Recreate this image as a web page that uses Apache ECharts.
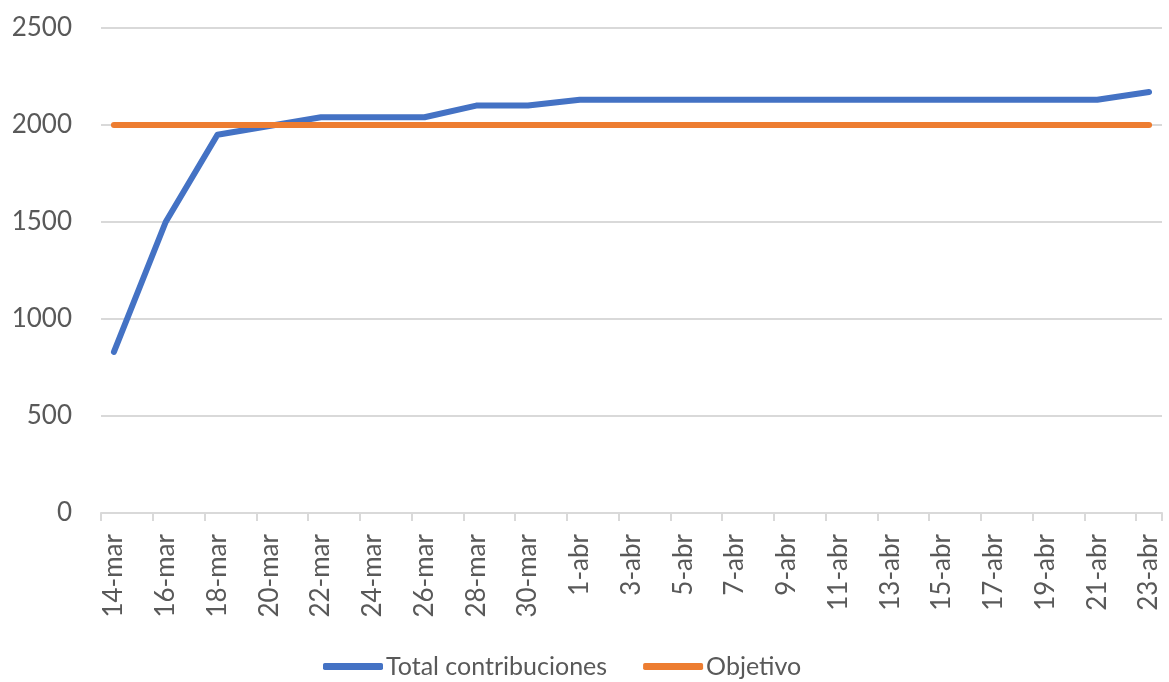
<!DOCTYPE html>
<html>
<head>
<meta charset="utf-8">
<script src="https://cdn.jsdelivr.net/npm/echarts@6/dist/echarts.min.js"></script>
<style>
html,body{margin:0;padding:0;background:#fff;}
#chart{width:1169px;height:682px;}
</style>
</head>
<body>
<div id="chart"></div>
<script>
var categories = [
  "14-mar","15-mar","16-mar","17-mar","18-mar","19-mar","20-mar","21-mar","22-mar","23-mar",
  "24-mar","25-mar","26-mar","27-mar","28-mar","29-mar","30-mar","31-mar",
  "1-abr","2-abr","3-abr","4-abr","5-abr","6-abr","7-abr","8-abr","9-abr","10-abr",
  "11-abr","12-abr","13-abr","14-abr","15-abr","16-abr","17-abr","18-abr","19-abr","20-abr",
  "21-abr","22-abr","23-abr"
];
var totalContribuciones = [
  830, null, 1500, null, 1950, null, 1995, null, 2040, null,
  2040, null, 2040, null, 2100, null, 2100, null,
  2130, null, 2130, null, 2130, null, 2130, null, 2130, null,
  2130, null, 2130, null, 2130, null, 2130, null, 2130, null,
  2130, null, 2170
];
var objetivo = [
  2000, 2000, 2000, 2000, 2000, 2000, 2000, 2000, 2000, 2000,
  2000, 2000, 2000, 2000, 2000, 2000, 2000, 2000,
  2000, 2000, 2000, 2000, 2000, 2000, 2000, 2000, 2000, 2000,
  2000, 2000, 2000, 2000, 2000, 2000, 2000, 2000, 2000, 2000,
  2000, 2000, 2000
];
var yTicks = [0, 500, 1000, 1500, 2000, 2500];

var FONT = 'Lato';
var TXT = '#595959';
var chart = echarts.init(document.getElementById('chart'), null, {renderer: 'canvas'});
chart.setOption({
  animation: false,
  backgroundColor: '#ffffff',
  textStyle: {fontFamily: FONT},
  grid: {left: 101, right: 7, top: 28, bottom: 169, containLabel: false},
  legend: {
    bottom: -2,
    left: 318,
    itemWidth: 60,
    itemHeight: 7,
    itemGap: 36,
    icon: 'roundRect',
    textStyle: {fontFamily: FONT, fontSize: 25, color: TXT, padding: [0, 0, 0, -2]},
    data: ['Total contribuciones', 'Objetivo']
  },
  xAxis: {
    type: 'category',
    data: categories,
    boundaryGap: true,
    axisLine: {show: true, lineStyle: {color: '#d9d9d9', width: 2}},
    axisTick: {show: true, interval: 1, length: 8, lineStyle: {color: '#d9d9d9', width: 2}},
    axisLabel: {interval: 1, rotate: 90, margin: 21, fontFamily: FONT, fontSize: 26, color: TXT}
  },
  yAxis: {
    type: 'value',
    min: yTicks[0],
    max: yTicks[yTicks.length - 1],
    interval: 500,
    axisLine: {show: false},
    axisTick: {show: false},
    axisLabel: {
      margin: 29, fontFamily: FONT, fontSize: 26, color: TXT,
      formatter: function (v) { return String(v); }
    },
    splitLine: {lineStyle: {color: '#d9d9d9', width: 2}}
  },
  series: [
    {
      name: 'Total contribuciones',
      type: 'line',
      data: totalContribuciones,
      connectNulls: true,
      showSymbol: false,
      symbol: 'none',
      lineStyle: {color: '#4472C4', width: 6, cap: 'round', join: 'round'},
      itemStyle: {color: '#4472C4'}
    },
    {
      name: 'Objetivo',
      type: 'line',
      data: objetivo,
      showSymbol: false,
      symbol: 'none',
      lineStyle: {color: '#ED7D31', width: 6, cap: 'round', join: 'round'},
      itemStyle: {color: '#ED7D31'}
    }
  ]
});
</script>
</body>
</html>
